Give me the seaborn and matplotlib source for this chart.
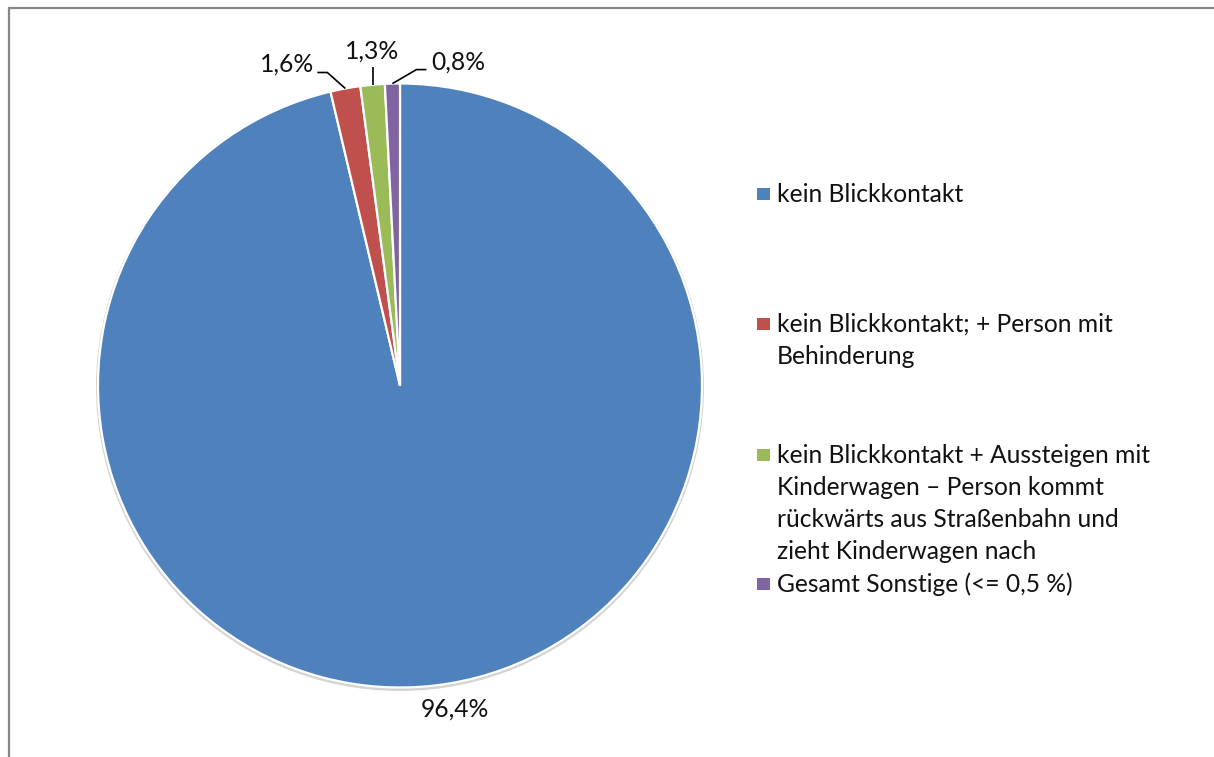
import matplotlib
matplotlib.use("Agg")
import matplotlib.pyplot as plt
from matplotlib.lines import Line2D
from matplotlib.patches import Rectangle, Circle
import seaborn as sns

# --- data ---------------------------------------------------------------
categories = [
    "kein Blickkontakt",
    "kein Blickkontakt; + Person mit\nBehinderung",
    "kein Blickkontakt + Aussteigen mit\nKinderwagen – Person kommt\nrückwärts aus Straßenbahn und\nzieht Kinderwagen nach",
    "Gesamt Sonstige (<= 0,5 %)",
]
shares = [96.4, 1.6, 1.3, 0.8]
colors = ["#4F81BD", "#C0504D", "#9BBB59", "#8064A2"]

# --- style --------------------------------------------------------------
sns.set_theme(style="white")
plt.rcParams["font.family"] = ["Lato", "DejaVu Sans"]
TEXT = "#111111"
FS = 17.7

W, H = 1214, 757
fig = plt.figure(figsize=(W / 100, H / 100), dpi=100)
fig.patch.set_facecolor("white")

# pie geometry in pixels
CX, CY, R = 400, 385.5, 302
BOX = 345
ax = fig.add_axes([(CX - BOX) / W, (H - CY - BOX) / H, 2 * BOX / W, 2 * BOX / H])

# soft shadow rim behind the pie
ax.add_patch(Circle((0, -1.5 / R), 1 + 2 / R, facecolor="#d4d4d4", edgecolor="none", zorder=0))

wedges, _ = ax.pie(
    shares,
    colors=colors,
    startangle=90,
    counterclock=False,
    radius=1,
    wedgeprops=dict(edgecolor="white", linewidth=1.6, zorder=1),
)
lim = BOX / R
ax.set_xlim(-lim, lim)
ax.set_ylim(-lim, lim)
ax.set_aspect("equal")
ax.axis("off")


def edge_point(w):
    import numpy as np
    t = np.deg2rad((w.theta1 + w.theta2) / 2)
    return np.cos(t), np.sin(t)


def off(p, dx, dy):
    """shift a data point by a pixel offset (dy positive = downwards)"""
    return p[0] + dx / R, p[1] - dy / R


def fmt(v):
    return f"{v:.1f}".replace(".", ",") + "%"


# value labels
# big slice: label just outside the rim
p0 = edge_point(wedges[0])
t = off(p0, 20, 31)
ax.text(t[0], t[1], fmt(shares[0]), ha="center", va="baseline", fontsize=FS, color=TEXT)

# small slices: labels with leader lines
leaders = [
    # (elbow offset, end offset, text offset from end, ha)
    ((-18, -16), (-10, 0), (-3, -1), "right"),
    ((0, -18), (0, 0), (0, -8), "center"),
    ((24, -14), (10, 0), (5, 0), "left"),
]
for w, v, (eo, no, to, ha) in zip(wedges[1:], shares[1:], leaders):
    p = edge_point(w)
    e = off(p, *eo)
    n = off(e, *no)
    ax.plot([p[0], e[0], n[0]], [p[1], e[1], n[1]], color="black", lw=1.2,
            solid_capstyle="butt", zorder=3, clip_on=False)
    tp = off(n, *to)
    ax.text(tp[0], tp[1], fmt(v), ha=ha, va="baseline", fontsize=FS, color=TEXT)

# --- legend -------------------------------------------------------------
LX_BOX, LX_TXT, SQ = 757, 777, 12.5
first_baselines = [202, 332, 463, 592]
LINE = 32
for cat, col, yb in zip(categories, colors, first_baselines):
    fig.add_artist(Rectangle(((LX_BOX) / W, 1 - (yb - 8 + SQ / 2) / H), SQ / W, SQ / H,
                             transform=fig.transFigure, facecolor=col, edgecolor="none"))
    for i, line in enumerate(cat.split("\n")):
        fig.text(LX_TXT / W, 1 - (yb + i * LINE) / H, line, ha="left", va="baseline",
                 fontsize=FS, color=TEXT)

# --- chart frame (top and left edges) -----------------------------------
frame_col = "#878787"
fig.add_artist(Line2D([8.5 / W, 1.0], [1 - 7.5 / H, 1 - 7.5 / H], transform=fig.transFigure,
                      color=frame_col, lw=1.6))
fig.add_artist(Line2D([9 / W, 9 / W], [0.0, 1 - 7.5 / H], transform=fig.transFigure,
                      color=frame_col, lw=1.6))

fig.savefig("out.png", dpi=100, facecolor="white")
